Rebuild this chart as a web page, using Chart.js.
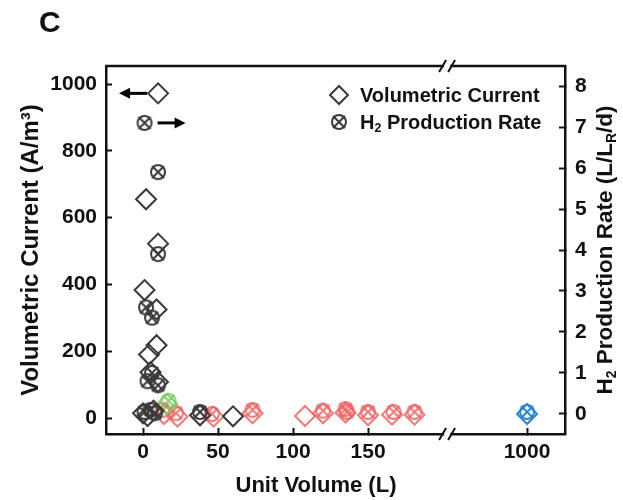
<!DOCTYPE html>
<html>
<head>
<meta charset="utf-8">
<script src="https://cdn.jsdelivr.net/npm/chart.js@4.4.0/dist/chart.umd.min.js"></script>
<style>
  html, body { margin: 0; padding: 0; background: #fff; }
</style>
</head>
<body>
<canvas id="myChart" width="623" height="500"></canvas>
<script>
// volumetric current (A/m3) vs unit volume (L), left axis
const currentBlack = [[10, 972], [2, 655], [10, 522], [1, 383], [9, 325], [9, 218], [4, 190], [5, 137], [10, 108], [0, 14], [3, 6], [7, 22], [38, 8], [60, 5]];
const currentGreen = [[16, 42]];
const currentRed = [[14, 12], [23, 4], [47, 4], [73, 14], [108, 6], [120, 14], [135, 16], [150, 8], [166, 10], [181, 10]];
const currentBlue = [[1000, 12]];

// H2 production rate (L/LR/d) vs unit volume (L), right axis
const rateBlack = [[1, 7.1], [10, 5.9], [10, 3.9], [2, 2.6], [6, 2.35], [6, 1.0], [3, 0.8], [10, 0.7], [1, 0.05], [5, 0.1], [8, 0.02], [38, 0.05]];
const rateGreen = [[17, 0.32]];
const rateRed = [[13, 0.1], [22, 0.02], [46, 0.0], [73, 0.1], [120, 0.08], [135, 0.12], [136, 0.05], [150, 0.05], [167, 0.05], [181, 0.05]];
const rateBlue = [[1000, 0.05]];

// tick labels
const lowTicks = [0, 50, 100, 150];
const highTicks = [1000];
const leftTicks = [0, 200, 400, 600, 800, 1000];
const rightTicks = [0, 1, 2, 3, 4, 5, 6, 7, 8];

const BLACK = '#3a3a3a';
const RED = 'rgba(242, 98, 98, 0.85)';
const GREEN = 'rgba(120, 205, 90, 0.9)';
const BLUE = '#2a88d2';
const FONT = 'Liberation Sans, Arial, sans-serif';

function toPoints(list){
  return list.map(p => ({x: p[0], y: p[1]}));
}

// circle with an x through it, used as a point image
function crossedCircle(color){
  const c = document.createElement('canvas');
  c.width = 20; c.height = 20;
  const g = c.getContext('2d');
  g.strokeStyle = color;
  g.lineWidth = 2;
  g.beginPath(); g.arc(10, 10, 7, 0, Math.PI * 2); g.stroke();
  g.beginPath();
  g.moveTo(4, 4); g.lineTo(16, 16);
  g.moveTo(16, 4); g.lineTo(4, 16);
  g.stroke();
  return c;
}

function diamondSet(list, color, xAxis){
  return {
    data: toPoints(list), xAxisID: xAxis, yAxisID: 'y',
    pointStyle: 'rectRot', pointRadius: 10, borderWidth: 2,
    borderColor: color, backgroundColor: 'transparent', showLine: false
  };
}
function rateSet(list, color, xAxis){
  return {
    data: toPoints(list), xAxisID: xAxis, yAxisID: 'y1',
    pointStyle: crossedCircle(color), pointRadius: 9,
    borderColor: color, backgroundColor: 'transparent', showLine: false
  };
}

function drawArrow(ctx, x1, y, x2){
  const dir = Math.sign(x2 - x1);
  ctx.save();
  ctx.strokeStyle = '#000'; ctx.fillStyle = '#000'; ctx.lineWidth = 3;
  ctx.beginPath(); ctx.moveTo(x1, y); ctx.lineTo(x2 - dir * 8, y); ctx.stroke();
  ctx.beginPath();
  ctx.moveTo(x2, y); ctx.lineTo(x2 - dir * 11, y - 5.5); ctx.lineTo(x2 - dir * 11, y + 5.5);
  ctx.closePath(); ctx.fill();
  ctx.restore();
}

// draws text pieces, some of them as subscripts
function richText(ctx, parts, x, y, size){
  let cx = x;
  parts.forEach(p => {
    const s = p[1] ? size * 0.62 : size;
    ctx.font = 'bold ' + s + 'px ' + FONT;
    ctx.fillText(p[0], cx, p[1] ? y + size * 0.28 : y);
    cx += ctx.measureText(p[0]).width;
  });
}
function richWidth(ctx, parts, size){
  let w = 0;
  parts.forEach(p => {
    ctx.font = 'bold ' + (p[1] ? size * 0.62 : size) + 'px ' + FONT;
    w += ctx.measureText(p[0]).width;
  });
  return w;
}

const decor = {
  id: 'decor',
  afterDraw(chart){
    const ctx = chart.ctx;
    const a = chart.chartArea;
    const sx = chart.scales.x, sy = chart.scales.y, sy1 = chart.scales.y1;
    const brk = sx.right;
    ctx.save();
    // top frame line
    ctx.strokeStyle = '#111'; ctx.lineWidth = 2.5;
    ctx.beginPath(); ctx.moveTo(a.left - 1, a.top); ctx.lineTo(a.right + 1, a.top); ctx.stroke();
    // axis break marks
    [a.top, a.bottom].forEach(yy => {
      ctx.fillStyle = '#fff';
      ctx.fillRect(brk - 3, yy - 3, 6, 6);
      ctx.strokeStyle = '#111'; ctx.lineWidth = 2;
      ctx.beginPath();
      ctx.moveTo(brk - 8, yy + 6); ctx.lineTo(brk - 1, yy - 6);
      ctx.moveTo(brk + 1, yy + 6); ctx.lineTo(brk + 8, yy - 6);
      ctx.stroke();
    });

    // arrows telling which axis each series uses
    const p1x = sx.getPixelForValue(currentBlack[0][0]), p1y = sy.getPixelForValue(currentBlack[0][1]);
    drawArrow(ctx, p1x - 11, p1y, p1x - 39);
    const p2x = sx.getPixelForValue(rateBlack[0][0]), p2y = sy1.getPixelForValue(rateBlack[0][1]);
    drawArrow(ctx, p2x + 13, p2y, p2x + 41);

    // legend
    ctx.strokeStyle = BLACK; ctx.lineWidth = 2;
    ctx.beginPath();
    ctx.moveTo(330, 95); ctx.lineTo(339, 86); ctx.lineTo(348, 95); ctx.lineTo(339, 104); ctx.closePath();
    ctx.stroke();
    ctx.drawImage(crossedCircle(BLACK), 329, 112);
    ctx.fillStyle = '#111'; ctx.textBaseline = 'middle'; ctx.textAlign = 'left';
    ctx.font = 'bold 20px ' + FONT;
    ctx.fillText('Volumetric Current', 360, 96);
    richText(ctx, [['H'], ['2', true], [' Production Rate']], 360, 123, 20);

    // x axis title
    ctx.font = 'bold 22px ' + FONT; ctx.textAlign = 'center';
    ctx.fillText('Unit Volume (L)', 316, 486);

    // right axis title
    const rt = [['H'], ['2', true], [' Production Rate (L/L'], ['R', true], ['/d)']];
    ctx.save();
    ctx.translate(606, 250); ctx.rotate(-Math.PI / 2);
    ctx.textAlign = 'left';
    richText(ctx, rt, -richWidth(ctx, rt, 22.5) / 2, 0, 22.5);
    ctx.restore();

    // panel letter
    ctx.font = 'bold 30px ' + FONT; ctx.textAlign = 'left';
    ctx.fillText('C', 39, 24);
    ctx.restore();
  }
};

const tickFont = {family: FONT, size: 21, weight: 'bold'};
const gridOpts = {drawOnChartArea: false, tickLength: -6, tickWidth: 2, tickColor: '#111'};
const borderOpts = {color: '#111', width: 2.5};
const plain = v => String(v);

const config = {
  type: 'scatter',
  data: {
    datasets: [
      diamondSet(currentBlack, BLACK, 'x'),
      rateSet(rateBlack, BLACK, 'x'),
      diamondSet(currentGreen, GREEN, 'x'),
      rateSet(rateGreen, GREEN, 'x'),
      diamondSet(currentRed, RED, 'x'),
      rateSet(rateRed, RED, 'x'),
      diamondSet(currentBlue, BLUE, 'x2'),
      rateSet(rateBlue, BLUE, 'x2')
    ]
  },
  options: {
    responsive: false,
    animation: false,
    layout: {padding: {top: 66, left: 0, right: 0, bottom: 0}},
    plugins: {legend: {display: false}, tooltip: {enabled: false}},
    scales: {
      x: {
        type: 'linear', position: 'bottom', stack: 'vol', stackWeight: 227.4,
        min: -24.7, max: 202.7,
        afterBuildTicks: s => { s.ticks = lowTicks.map(v => ({value: v})); },
        afterFit: s => { s.height = 66; },
        grid: gridOpts, border: borderOpts,
        ticks: {font: tickFont, color: '#111', padding: 12, maxRotation: 0, minRotation: 0, autoSkip: false, callback: plain}
      },
      x2: {
        type: 'linear', position: 'bottom', stack: 'vol', stackWeight: 78.6,
        min: 946.7, max: 1025.3,
        afterBuildTicks: s => { s.ticks = highTicks.map(v => ({value: v})); },
        afterFit: s => { s.height = 66; },
        grid: gridOpts, border: borderOpts,
        ticks: {font: tickFont, color: '#111', padding: 12, maxRotation: 0, minRotation: 0, autoSkip: false, callback: plain}
      },
      y: {
        type: 'linear', position: 'left',
        min: -47.9, max: 1053.9,
        afterBuildTicks: s => { s.ticks = leftTicks.map(v => ({value: v})); },
        afterFit: s => { s.width = 106; },
        grid: gridOpts, border: borderOpts,
        ticks: {font: tickFont, color: '#111', padding: 15, callback: plain},
        title: {display: true, text: 'Volumetric Current (A/m³)', color: '#111',
          font: {family: FONT, size: 24, weight: 'bold'}, padding: {top: 17}}
      },
      y1: {
        type: 'linear', position: 'right',
        min: -0.488, max: 8.488,
        afterBuildTicks: s => { s.ticks = rightTicks.map(v => ({value: v})); },
        afterFit: s => { s.width = 58; },
        grid: gridOpts, border: borderOpts,
        ticks: {font: tickFont, color: '#111', padding: 16, callback: plain}
      }
    }
  },
  plugins: [decor]
};

const myChart = new Chart(document.getElementById('myChart'), config);
</script>
</body>
</html>
